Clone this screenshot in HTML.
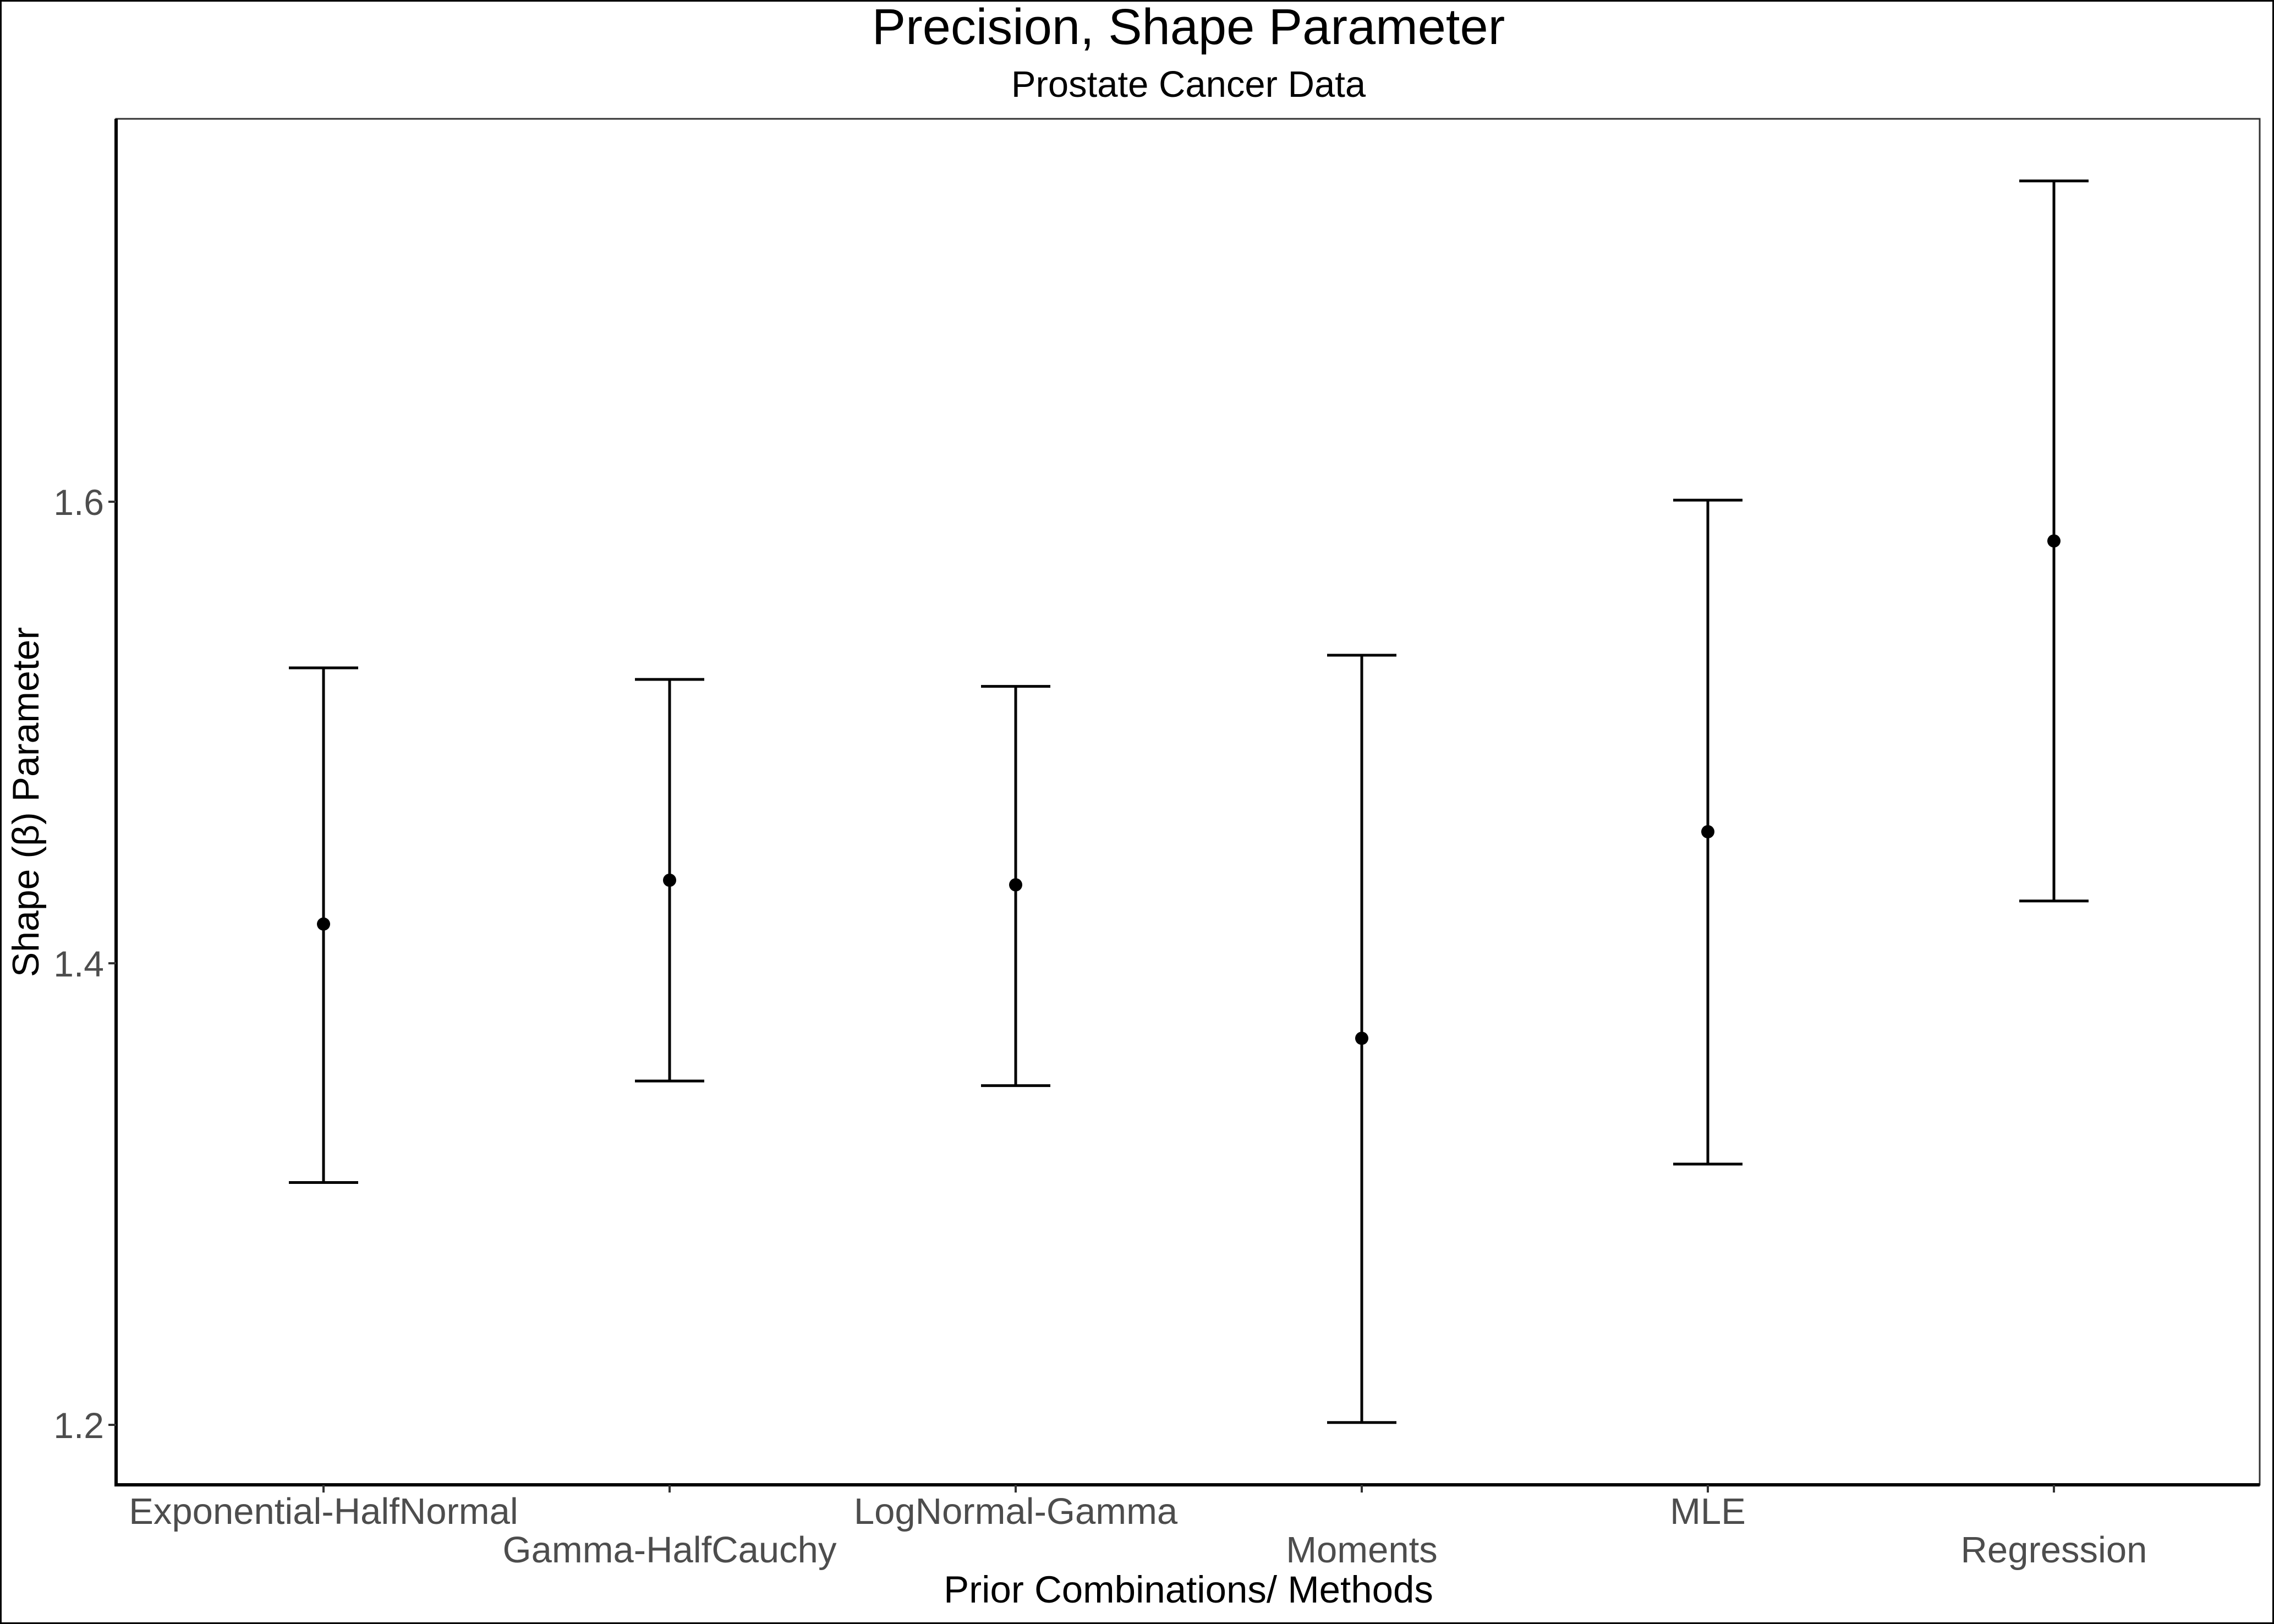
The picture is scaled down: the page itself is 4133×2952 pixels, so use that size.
<!DOCTYPE html>
<html><head><meta charset="utf-8"><style>
html,body{margin:0;padding:0;background:#fff}
svg{display:block}
text{font-family:"Liberation Sans",Arial,sans-serif}
</style></head><body>
<svg id="chart" width="4133" height="2952" viewBox="0 0 4133 2952" xmlns="http://www.w3.org/2000/svg">
<rect x="1.5" y="1.5" width="4130" height="2949" fill="#fff" stroke="#000" stroke-width="3"/>
<text x="2160" y="80" font-size="92" text-anchor="middle" fill="#000">Precision, Shape Parameter</text>
<text x="2160" y="176" font-size="67" text-anchor="middle" fill="#000">Prostate Cancer Data</text>
<rect x="211" y="216" width="3896" height="2483" fill="none" stroke="#333" stroke-width="3"/>
<line x1="211" y1="216" x2="211" y2="2702" stroke="#000" stroke-width="6"/>
<line x1="208" y1="2699" x2="4107" y2="2699" stroke="#000" stroke-width="6"/>
<g id="marks"></g>
<text x="2160" y="2913" font-size="69" text-anchor="middle" fill="#000">Prior Combinations/ Methods</text>
<text transform="translate(70,1458) rotate(-90)" font-size="68" text-anchor="middle" fill="#000">Shape (β) Parameter</text>
</svg>
<script>
const categories=["Exponential-HalfNormal","Gamma-HalfCauchy","LogNormal-Gamma","Moments","MLE","Regression"];
const estimates=[1.417,1.436,1.434,1.3675,1.457,1.583];
const lowers=[1.305,1.349,1.347,1.201,1.313,1.427];
const uppers=[1.528,1.523,1.520,1.5335,1.6007,1.739];
const yTicks=[1.2,1.4,1.6];
const yTickLabels=["1.2","1.4","1.6"];
const NS="http://www.w3.org/2000/svg";
const g=document.getElementById('marks');
function xs(i){return 588+i*629;}
function ys(v){return 2590-(v-1.2)*4195;}
function mk(tag,attrs){const e=document.createElementNS(NS,tag);for(const k in attrs)e.setAttribute(k,attrs[k]);g.appendChild(e);return e;}
yTicks.forEach((t,i)=>{
  const l=mk('line',{x1:197,x2:211,y1:ys(t),y2:ys(t),stroke:'#333','stroke-width':4});
  
  
  const tx=mk('text',{x:189,y:ys(t)+24,'font-size':66,'text-anchor':'end',fill:'#4d4d4d'});
  tx.textContent=yTickLabels[i];
  
  
});
categories.forEach((c,i)=>{
  const x=xs(i);
  const tk=mk('line',{x1:x,x2:x,y1:2699,y2:2713,stroke:'#333','stroke-width':4});
  
  
  const tx=mk('text',{x:x,y:(i%2===0)?2770:2840,'font-size':67,'text-anchor':'middle',fill:'#4d4d4d'});
  tx.textContent=c;
  
  
  const v=mk('line',{x1:x,x2:x,y1:ys(uppers[i]),y2:ys(lowers[i]),stroke:'#000','stroke-width':5});
  
  
  const ct=mk('line',{x1:x-63,x2:x+63,y1:ys(uppers[i]),y2:ys(uppers[i]),stroke:'#000','stroke-width':5});
  
  
  const cb=mk('line',{x1:x-63,x2:x+63,y1:ys(lowers[i]),y2:ys(lowers[i]),stroke:'#000','stroke-width':5});
  
  
  const p=mk('circle',{cx:x,cy:ys(estimates[i]),r:12,fill:'#000'});
  
  
});
</script>
</body></html>
